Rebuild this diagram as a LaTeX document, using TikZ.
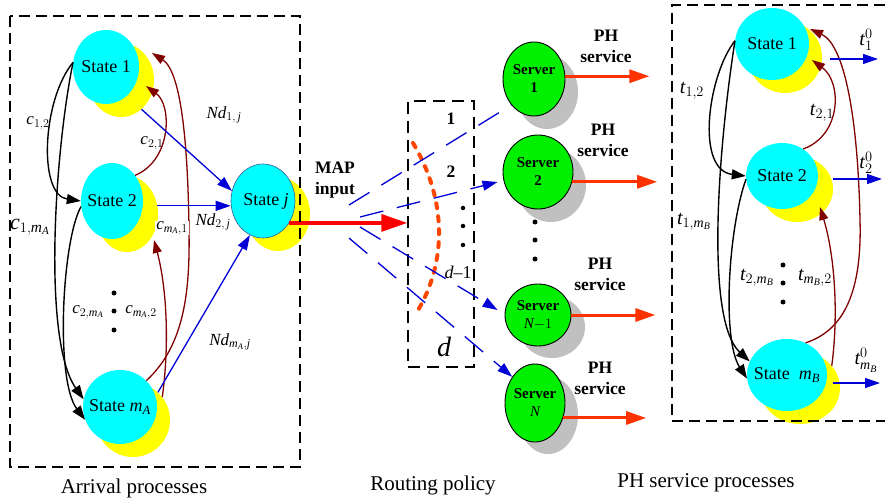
\documentclass[tikz,border=0pt]{standalone}
\usepackage{fontspec}
\setmainfont{Liberation Serif}
\usetikzlibrary{shapes.geometric,arrows.meta,calc}
\newcommand\mi[1]{\mathit{#1}}
\definecolor{cyn}{RGB}{0,255,255}
\definecolor{yel}{RGB}{255,255,0}
\definecolor{grn}{RGB}{0,240,0}
\definecolor{shd}{RGB}{192,192,192}
\definecolor{drd}{RGB}{128,0,0}
\definecolor{bluc}{RGB}{0,0,215}
\definecolor{orgc}{RGB}{255,51,0}
\definecolor{orgd}{RGB}{255,69,0}
\definecolor{jrim}{RGB}{60,90,150}
\tikzset{
 ysh/.style={ellipse,fill=yel,inner sep=0pt},
 cst/.style={ellipse,fill=cyn,inner sep=0pt},
 gsh/.style={ellipse,fill=shd,inner sep=0pt},
 srv/.style={ellipse,fill=grn,draw=black,line width=0.9pt,inner sep=0pt},
 stx/.style={font=\fontsize{18}{20}\selectfont,inner sep=0pt},
 svt/.style={font=\bfseries\fontsize{15}{18}\selectfont,align=center,inner sep=0pt},
 lab/.style={font=\fontsize{17}{20}\selectfont,inner sep=1pt},
 tlab/.style={font=\fontsize{20}{22}\selectfont,inner sep=1pt},
 btx/.style={font=\bfseries\fontsize{17.5}{21}\selectfont,align=center,inner sep=0pt},
 captx/.style={font=\fontsize{21}{24}\selectfont,inner sep=0pt},
 box/.style={draw=black,line width=1.4pt,dash pattern=on 11pt off 6pt},
 rbox/.style={draw=black,line width=1.4pt,dash pattern=on 12pt off 7pt,minimum width=66pt,minimum height=266pt,inner sep=0pt},
 blk/.style={draw=black,line width=1.4pt,-{Triangle[length=14pt,width=10pt]}},
 drk/.style={draw=drd,line width=1.3pt,-{Triangle[length=13pt,width=9pt]}},
 barr/.style={draw=bluc,line width=1.3pt,-{Triangle[length=15pt,width=10pt]}},
 bdash/.style={draw=bluc,line width=1.3pt,dash pattern=on 24pt off 14pt},
 pharr/.style={draw=orgc,line width=3pt,-{Triangle[length=20pt,width=13pt]}},
 maparr/.style={draw=red,line width=3.5pt,-{Triangle[length=26pt,width=17pt]}},
 dotc/.style={circle,fill=black,inner sep=0pt,minimum size=5pt},
}
\begin{document}
\begin{tikzpicture}[x=1pt,y=-1pt]
\useasboundingbox (0,0) rectangle (885,502);

% ---------- left: arrival states ----------
\node[ysh,minimum width=66,minimum height=74] (y1) at (121,80) {};
\node[cst,minimum width=66,minimum height=74] (s1) at (106,67) {};
\node[stx] (ts1) at (s1) {State 1};
\node[ysh,minimum width=62,minimum height=76] (y2) at (127,214) {};
\node[cst,minimum width=62,minimum height=76] (s2) at (112,201) {};
\node[stx] (ts2) at (s2) {State 2};
\node[ysh,minimum width=74,minimum height=74] (ymA) at (133,420) {};
\node[cst,minimum width=74,minimum height=74] (smA) at (120,407) {};
\node[stx] (tsmA) at (smA) {State $\mi{m}_{\mi{A}}$};
\node[ysh,minimum width=64,minimum height=74] (yj) at (278,214) {};
\node[cst,draw=jrim,line width=0.6pt,minimum width=64,minimum height=74] (sj) at (263,201) {};
\node[stx] (tsj) at (266,201) {State $\mi{j}$};

% black transitions
\draw[blk] (s1.172) .. controls (42,100) and (38,195) .. (s2.west);
\draw[blk] (s1.172) .. controls (55,150) and (42,340) .. (smA.168);
\draw[blk] (s2.190) .. controls (62,240) and (55,380) .. (smA.200);
% dark red transitions
\draw[drk] (s2.48) .. controls (172,160) and (172,105) .. ($(y1.center)+(25,6)$);
\draw[drk] (smA.45) .. controls (185,345) and (190,290) .. (189,230) .. controls (188,150) and (182,72) .. ($(y1.center)+(31,-27)$);
\draw[drk] (ymA.38) .. controls (170,340) and (166,285) .. ($(y2.center)+(27,26)$);
% blue to state j
\draw[barr] (y1.-55) -- (sj.162);
\draw[barr] (y2.15) -- (y2.15 -| sj.west);
\draw[barr] (ymA.48) -- (sj.-111);

% labels left
\node[lab] (c12) at (38,123) {$\mi{c}_{1,2}$};
\node[lab,font=\fontsize{22}{24}\selectfont] (c1mA) at (30,227) {$\mi{c}_{1,\mi{m}_{\mi{A}}}$};
\node[lab] (c21) at (152,143) {$\mi{c}_{2,1}$};
\node[lab,fill=white] (cmA1) at (172,228) {$\mi{c}_{\mi{m}_{\mi{A}},1}$};
\node[lab] (c2mA) at (88,312) {$\mi{c}_{2,\mi{m}_{\mi{A}}}$};
\node[lab] (cmA2) at (141,312) {$\mi{c}_{\mi{m}_{\mi{A}},2}$};
\node[dotc] (dl1) at (114,293) {};
\node[dotc] (dl2) at (114,311) {};
\node[dotc] (dl3) at (114,330) {};
\node[lab] (nd1) at (224,115) {$\mi{Nd}_{1,\,\mi{j}}$};
\node[lab] (nd2) at (213,222) {$\mi{Nd}_{2,\,\mi{j}}$};
\node[lab] (nd3) at (230,342) {$\mi{Nd}_{\mi{m}_{\mi{A}},\mi{j}}$};

% ---------- routing ----------
\node[rbox] (rp) at (441,234) {};
\node[btx] (mapin) at (335,180) {MAP\\input};
\draw[maparr] (sj.-40) -- (sj.-40 -| rp.west);
\draw[draw=orgd,line width=4pt,dash pattern=on 5pt off 8pt,line cap=round] (413,143) .. controls (447,200) and (447,262) .. (417,312);
\node[btx] (r1) at (451,119) {1};
\node[btx] (r2) at (451,172) {2};
\node[dotc,minimum size=4.5pt] (dr1) at (463,208) {};
\node[dotc,minimum size=4.5pt] (dr2) at (463,226) {};
\node[dotc,minimum size=4.5pt] (dr3) at (463,245) {};
\node[lab,font=\fontsize{18}{20}\selectfont] (rdm) at (458,272) {$\mi{d}$–1};
\node[lab,font=\fontsize{28}{30}\selectfont] (rd) at (444,347) {$\mi{d}$};

% ---------- servers ----------
\node[gsh,minimum width=62,minimum height=74] (g1) at (547,92) {};
\node[srv,minimum width=62,minimum height=74] (sv1) at (534,79) {};
\node[svt] (tsv1) at (sv1) {Server\\1};
\node[gsh,minimum width=70,minimum height=74] (g2) at (551,185) {};
\node[srv,minimum width=70,minimum height=74] (sv2) at (538,172) {};
\node[svt] (tsv2) at (sv2) {Server\\2};
\node[gsh,minimum width=66,minimum height=62] (g3) at (552,327) {};
\node[srv,minimum width=66,minimum height=62] (svn1) at (538,315) {};
\node[svt] (tsv3) at (svn1) {Server\\{\mdseries$\mi{N}{-}1$}};
\node[gsh,minimum width=60,minimum height=78] (g4) at (548,415) {};
\node[srv,minimum width=60,minimum height=78] (svN) at (535,403) {};
\node[svt] (tsv4) at (svN) {Server\\{\mdseries$\mi{N}$}};
\node[dotc] (ds1) at (535,222) {};
\node[dotc] (ds2) at (535,240) {};
\node[dotc] (ds3) at (535,259) {};

\coordinate (m1) at (349,205);
\coordinate (m2) at (360,217);
\coordinate (m3) at (360,227);
\coordinate (m4) at (349,238);
\draw[bdash] (m1) -- (sv1.229);
\draw[bdash,-{Triangle[length=15pt,width=10pt]}] (m2) -- ($(sv2.west)+(-5,10)$);
\draw[bdash,-{Triangle[length=15pt,width=10pt]}] (m3) -- ($(svn1.west)+(-7,-5)$);
\draw[bdash,-{Triangle[length=15pt,width=10pt]}] (m4) -- (svN.131);

\draw[pharr] (sv1.5) -- ++(84,0) coordinate (p1);
\draw[pharr] (sv2.-16) -- ++(85,0) coordinate (p2);
\draw[pharr] (svn1.east) -- ++(84,0) coordinate (p3);
\draw[pharr] (svN.-28) -- ++(83,0) coordinate (p4);
\node[btx] (ph1) at (606,46) {PH\\service};
\node[btx] (ph2) at (603,140) {PH\\service};
\node[btx] (ph3) at (600,274) {PH\\service};
\node[btx] (ph4) at (600,378) {PH\\service};

% ---------- right: PH service states ----------
\node[ysh,minimum width=74,minimum height=72] (yr1) at (785,57) {};
\node[cst,minimum width=74,minimum height=72] (sr1) at (772,44) {};
\node[stx] (tsr1) at (sr1) {State 1};
\node[ysh,minimum width=72,minimum height=66] (yr2) at (797,189) {};
\node[cst,minimum width=72,minimum height=66] (sr2) at (782,176) {};
\node[stx] (tsr2) at (sr2) {State 2};
\node[ysh,minimum width=80,minimum height=72] (yr3) at (800,388) {};
\node[cst,minimum width=80,minimum height=72] (sr3) at (787,375) {};
\node[stx] (tsr3) at (sr3) {State\ \ $\mi{m}_{\mi{B}}$};

\draw[blk] (sr1.175) .. controls (708,75) and (695,170) .. (sr2.west);
\draw[blk] (sr1.175) .. controls (718,150) and (705,320) .. (sr3.160);
\draw[blk] (sr2.185) .. controls (728,230) and (722,340) .. (sr3.185);
\draw[drk] (sr2.52) .. controls (842,135) and (842,82) .. ($(yr1.center)+(27,3)$);
\draw[drk] (sr3.60) .. controls (845,330) and (862,290) .. (860,220) .. controls (858,120) and (845,45) .. ($(yr1.center)+(25,-28)$);
\draw[drk] (yr3.35) .. controls (838,320) and (836,260) .. ($(yr2.center)+(23,18)$);
\draw[barr] ($(yr1.center)+(45,2)$) -- ++(48,0) coordinate (o1);
\draw[barr] ($(yr2.center)+(36,-10)$) -- ++(49,0) coordinate (o2);
\draw[barr] ($(yr3.center)+(33,-5)$) -- ++(47,0) coordinate (o3);

\node[tlab] (t12) at (692,91) {$\mi{t}_{1,2}$};
\node[tlab] (t1mB) at (694,222) {$\mi{t}_{1,\mi{m}_{\mi{B}}}$};
\node[tlab] (t2mB) at (757,278) {$\mi{t}_{2,\mi{m}_{\mi{B}}}$};
\node[tlab] (tmB2) at (815,278) {$\mi{t}_{\mi{m}_{\mi{B}},2}$};
\node[tlab] (t21) at (822,113) {$\mi{t}_{2,1}$};
\node[dotc] (dq1) at (783,265) {};
\node[dotc] (dq2) at (783,283) {};
\node[dotc] (dq3) at (783,302) {};
\node[tlab] (t10) at (866,40) {$\mi{t}^{0}_{1}$};
\node[tlab] (t20) at (866,163) {$\mi{t}^{0}_{2}$};
\node[tlab] (t30) at (866,360) {$\mi{t}^{0}_{\mi{m}_{\mi{B}}}$};

% ---------- frames and captions ----------
\draw[box] (10,16) rectangle (300,467);
\draw[box] (885,5) -- (672,5) -- (672,421) -- (885,421);
\node[captx] (cap1) at (134,488) {Arrival processes};
\node[captx] (cap2) at (433,485) {Routing policy};
\node[captx] (cap3) at (706,483) {PH service processes};
\end{tikzpicture}
\end{document}
